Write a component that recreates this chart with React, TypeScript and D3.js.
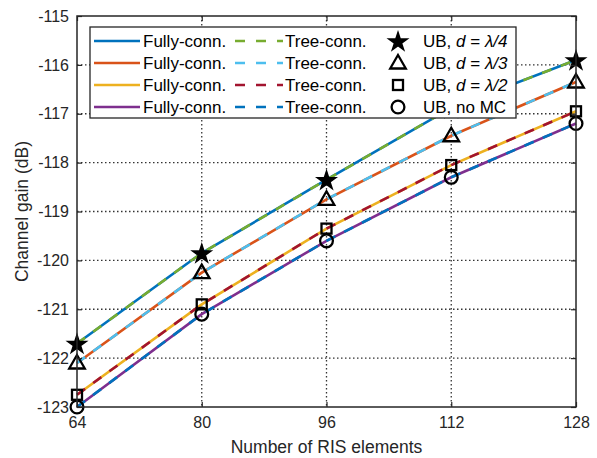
import * as d3 from "d3";
import { useEffect, useRef } from "react";

const xTicks = [64, 80, 96, 112, 128];
const yTicks = [-123, -122, -121, -120, -119, -118, -117, -116, -115];

// one curve per spacing; fully-conn (solid) and tree-conn (dashed) overlap
const gainQuarter = [-121.7, -119.85, -118.35, -116.88, -115.9];
const gainThird = [-122.1, -120.25, -118.75, -117.45, -116.35];
const gainHalf = [-122.75, -120.9, -119.35, -118.05, -116.95];
const gainNoMC = [-123.0, -121.1, -119.6, -118.3, -117.2];

const solidColors = ["#0072BD", "#D95319", "#EDB120", "#7E2F8E"];
const dashColors = ["#77AC30", "#4DBEEE", "#A2142F", "#0072BD"];
const markerNames = ["star", "triangle", "square", "circle"];
const boundLabels = ["\u03bb/4", "\u03bb/3", "\u03bb/2", ""];

const series = [gainQuarter, gainThird, gainHalf, gainNoMC];

const App = () => {
  const svgRef = useRef<SVGSVGElement>(null);

  const drawMarker = (g: any, kind: string, x: number, y: number) => {
    if (kind === "star") {
      g.append("path")
        .attr("d", d3.symbol(d3.symbolStar, 105)())
        .attr("transform", `translate(${x},${y + 1})`)
        .attr("fill", "black")
        .attr("stroke", "black")
        .attr("stroke-width", 1.5);
    } else if (kind === "triangle") {
      g.append("path")
        .attr("d", d3.symbol(d3.symbolTriangle, 105)())
        .attr("transform", `translate(${x},${y + 1})`)
        .attr("fill", "none")
        .attr("stroke", "black")
        .attr("stroke-width", 2.3);
    } else if (kind === "square") {
      g.append("rect")
        .attr("x", x - 5)
        .attr("y", y - 5)
        .attr("width", 10)
        .attr("height", 10)
        .attr("fill", "none")
        .attr("stroke", "black")
        .attr("stroke-width", 2.3);
    } else {
      g.append("circle")
        .attr("cx", x)
        .attr("cy", y)
        .attr("r", 6.4)
        .attr("fill", "none")
        .attr("stroke", "black")
        .attr("stroke-width", 2.3);
    }
  };

  const renderSVG = () => {
    const dims = {
      width: 597,
      height: 458,
      margin: { top: 16, left: 77, right: 21, bottom: 51 },
    };
    const innerWidth = dims.width - dims.margin.left - dims.margin.right;
    const innerHeight = dims.height - dims.margin.top - dims.margin.bottom;
    const font = "Liberation Sans, Arial, sans-serif";

    const xScale = d3.scaleLinear([64, 128], [0, innerWidth]);
    const yScale = d3.scaleLinear([-123, -115], [innerHeight, 0]);

    const root = d3.select(svgRef.current);
    root.selectAll("*").remove();
    root
      .attr("width", dims.width)
      .attr("height", dims.height)
      .attr("viewBox", [0, 0, dims.width, dims.height].join(" "))
      .style("position", "absolute")
      .style("left", 0)
      .style("top", 0);

    root.append("rect").attr("width", dims.width).attr("height", dims.height).attr("fill", "white");

    const svg = root.append("g").attr("transform", `translate(${dims.margin.left},${dims.margin.top})`);

    // grid
    svg
      .append("g")
      .selectAll("line")
      .data(xTicks.slice(1, -1))
      .join("line")
      .attr("x1", (d) => xScale(d))
      .attr("x2", (d) => xScale(d))
      .attr("y1", 0)
      .attr("y2", innerHeight)
      .attr("stroke", "#333")
      .attr("stroke-width", 1.3)
      .attr("stroke-dasharray", "1.5,2.5");
    svg
      .append("g")
      .selectAll("line")
      .data(yTicks.slice(1, -1))
      .join("line")
      .attr("x1", 0)
      .attr("x2", innerWidth)
      .attr("y1", (d) => yScale(d))
      .attr("y2", (d) => yScale(d))
      .attr("stroke", "#333")
      .attr("stroke-width", 1.3)
      .attr("stroke-dasharray", "1.5,2.5");

    // curves
    const line = d3
      .line<number>()
      .x((d, i) => xScale(xTicks[i]))
      .y((d) => yScale(d));

    series.forEach((vals, k) => {
      svg
        .append("path")
        .datum(vals)
        .attr("d", line)
        .attr("fill", "none")
        .attr("stroke", solidColors[k])
        .attr("stroke-width", 2.6);
      svg
        .append("path")
        .datum(vals)
        .attr("d", line)
        .attr("fill", "none")
        .attr("stroke", dashColors[k])
        .attr("stroke-width", 2.6)
        .attr("stroke-dasharray", "10,10");
    });

    series.forEach((vals, k) => {
      vals.forEach((v, i) => drawMarker(svg, markerNames[k], xScale(xTicks[i]), yScale(v)));
    });

    // axes (inward ticks, box)
    svg
      .append("g")
      .attr("transform", `translate(0,${innerHeight})`)
      .call(d3.axisBottom(xScale).tickValues(xTicks).tickSize(-5).tickPadding(10))
      .call((g) => {
        g.select("path.domain").remove();
        g.selectAll(".tick line").attr("stroke", "#262626").attr("stroke-width", 1.2);
        g.selectAll(".tick text").attr("font-size", 16).attr("font-family", font).attr("fill", "#262626");
      });
    svg
      .append("g")
      .call(d3.axisTop(xScale).tickValues(xTicks).tickSize(-5).tickFormat(() => ""))
      .call((g) => {
        g.select("path.domain").remove();
        g.selectAll(".tick line").attr("stroke", "#262626").attr("stroke-width", 1.2);
      });
    svg
      .append("g")
      .call(d3.axisLeft(yScale).tickValues(yTicks).tickSize(-5).tickPadding(8).tickFormat((d) => `${d}`.replace("\u2212", "-")))
      .call((g) => {
        g.select("path.domain").remove();
        g.selectAll(".tick line").attr("stroke", "#262626").attr("stroke-width", 1.2);
        g.selectAll(".tick text").attr("font-size", 16).attr("font-family", font).attr("fill", "#262626");
      });
    svg
      .append("g")
      .attr("transform", `translate(${innerWidth},0)`)
      .call(d3.axisRight(yScale).tickValues(yTicks).tickSize(-5).tickFormat(() => ""))
      .call((g) => {
        g.select("path.domain").remove();
        g.selectAll(".tick line").attr("stroke", "#262626").attr("stroke-width", 1.2);
      });
    svg
      .append("rect")
      .attr("width", innerWidth)
      .attr("height", innerHeight)
      .attr("fill", "none")
      .attr("stroke", "#262626")
      .attr("stroke-width", 1.5);

    // axis titles
    root
      .append("text")
      .attr("x", dims.margin.left + innerWidth / 2)
      .attr("y", 453)
      .attr("text-anchor", "middle")
      .attr("font-size", 17.5)
      .attr("font-family", font)
      .attr("fill", "#262626")
      .text("Number of RIS elements");
    root
      .append("text")
      .attr("transform", `translate(28,${dims.margin.top + innerHeight / 2}) rotate(-90)`)
      .attr("text-anchor", "middle")
      .attr("font-size", 17.5)
      .attr("font-family", font)
      .attr("fill", "#262626")
      .text("Channel gain (dB)");

    // legend
    const legend = root.append("g").attr("transform", "translate(90,27)");
    legend
      .append("rect")
      .attr("width", 426)
      .attr("height", 91)
      .attr("fill", "white")
      .attr("stroke", "#262626")
      .attr("stroke-width", 1.3);

    const rowY = (i: number) => 14 + i * 22;
    for (let i = 0; i < 4; i++) {
      const y = rowY(i);
      legend
        .append("line")
        .attr("x1", 4)
        .attr("x2", 50)
        .attr("y1", y)
        .attr("y2", y)
        .attr("stroke", solidColors[i])
        .attr("stroke-width", 2.6);
      legend
        .append("text")
        .attr("x", 53)
        .attr("y", y + 6)
        .attr("font-size", 17)
        .attr("font-family", font)
        .attr("fill", "black")
        .text("Fully-conn.");
      legend
        .append("line")
        .attr("x1", 145)
        .attr("x2", 193)
        .attr("y1", y)
        .attr("y2", y)
        .attr("stroke", dashColors[i])
        .attr("stroke-width", 2.6)
        .attr("stroke-dasharray", "10,11");
      legend
        .append("text")
        .attr("x", 195)
        .attr("y", y + 6)
        .attr("font-size", 17)
        .attr("font-family", font)
        .attr("fill", "black")
        .text("Tree-conn.");
      drawMarker(legend, markerNames[i], 308, y);
      const t = legend
        .append("text")
        .attr("x", 333)
        .attr("y", y + 6)
        .attr("font-size", 17)
        .attr("font-family", font)
        .attr("fill", "black");
      if (boundLabels[i]) {
        t.append("tspan").text("UB, ");
        t.append("tspan").attr("font-style", "italic").text("d");
        t.append("tspan").text(" = ");
        t.append("tspan").attr("font-style", "italic").text(boundLabels[i]);
      } else {
        t.text("UB, no MC");
      }
    }
  };

  useEffect(() => {
    renderSVG();
  });

  return <svg ref={svgRef} />;
};

export default App;
